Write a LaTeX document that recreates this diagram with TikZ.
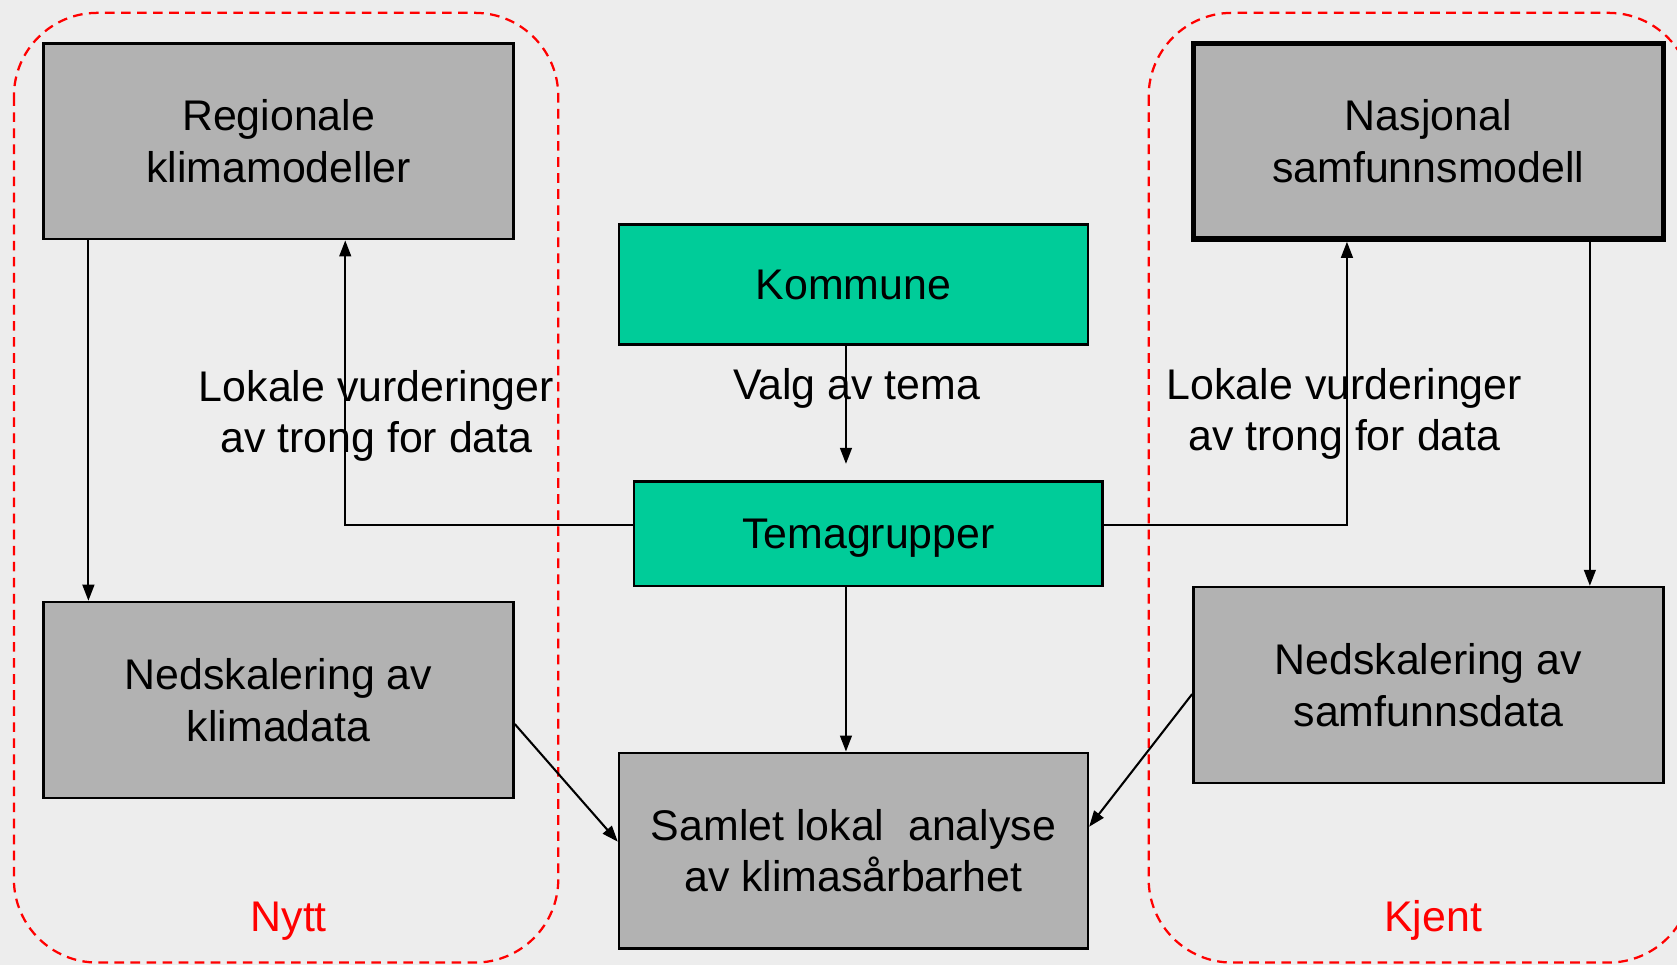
\documentclass[tikz,border=0pt]{standalone}
\usepackage{fontspec}
\setmainfont{Liberation Sans}
\usetikzlibrary{arrows.meta,calc}
\definecolor{bggray}{HTML}{EDEDED}
\definecolor{boxgray}{HTML}{B2B2B2}
\definecolor{boxgreen}{HTML}{00CC99}
\definecolor{redline}{HTML}{FF0000}
\begin{document}
\begin{tikzpicture}[x=0.01cm,y=-0.01cm,
  txt/.style={font=\fontsize{11.4pt}{13.7pt}\selectfont, align=center, inner sep=0pt},
  gbox/.style={txt, draw=black, fill=boxgray, line width=0.7pt, minimum width=4.39cm, minimum height=1.83cm},
  grbox/.style={txt, draw=black, fill=boxgreen, line width=0.7pt, minimum width=4.38cm},
  arr/.style={line width=0.55pt, -{Triangle[length=0.15cm, width=0.11cm]}},
  reddash/.style={draw=redline, line width=0.6pt, dash pattern=on 0.09cm off 0.06cm, rounded corners=0.78cm},
  redlab/.style={txt, text=redline}]
\useasboundingbox (0,0) rectangle (1568,902);
\clip (0,0) rectangle (1568,902);
\fill[bggray] (0,0) rectangle (1568,902);

% dashed groups
\draw[reddash] (13,12) rectangle (522,900);
\draw[reddash] (1074,12) rectangle (1582,900);

% boxes
\node[gbox] (reg) at (260.5,132) {Regionale\\klimamodeller};
\node[gbox, line width=1.4pt] (nas) at (1335.5,132) {Nasjonal\\samfunnsmodell};
\node[grbox, minimum height=1.12cm] (kom) at (798,266) {Kommune};
\node[grbox, minimum height=0.98cm, text depth=0pt] (tema) at (812,499) {Temagrupper};
\node[gbox] (nedk) at (260.5,654.5) {Nedskalering av\\klimadata};
\node[gbox] (neds) at (1335.5,640.5) {Nedskalering av\\samfunnsdata};
\node[gbox, minimum width=4.38cm] (sam) at (798,795.5) {Samlet lokal\ \ analyse\\av klimasårbarhet};

% labels
\node[txt] (lab1) at (352,389) {Lokale vurderinger\\av trong for data};
\node[txt] (valg) at (801,363) {Valg av tema};
\node[txt] (lab2) at (1257,387) {Lokale vurderinger\\av trong for data};
\node[redlab] (nytt) at (270,861) {Nytt};
\node[redlab] (kjent) at (1340,861) {Kjent};

% connectors
\draw[arr] ([xshift=0.43cm]reg.south west) -- ([xshift=0.43cm]reg.south west |- nedk.north);
\draw[arr] ([xshift=-0.71cm]nas.south east) -- ([xshift=-0.71cm]nas.south east |- neds.north);
\draw[arr] ([yshift=0.08cm]tema.west) -| ([xshift=2.83cm]reg.south west);
\draw[arr] ([yshift=0.08cm]tema.east) -| ([xshift=-2.98cm]nas.south east);
\draw[arr, shorten >=0.15cm] ([xshift=-0.07cm]kom.south) -- ([xshift=-0.07cm]kom.south |- tema.north);
\draw[arr] ([xshift=-0.07cm]sam.north |- tema.south) -- ([xshift=-0.07cm]sam.north);
\draw[arr] ([yshift=-0.225cm]nedk.east) -- ([yshift=0.085cm]sam.west);
\draw[arr] ([yshift=-0.085cm]neds.west) -- ([yshift=0.225cm]sam.east);
\end{tikzpicture}
\end{document}
